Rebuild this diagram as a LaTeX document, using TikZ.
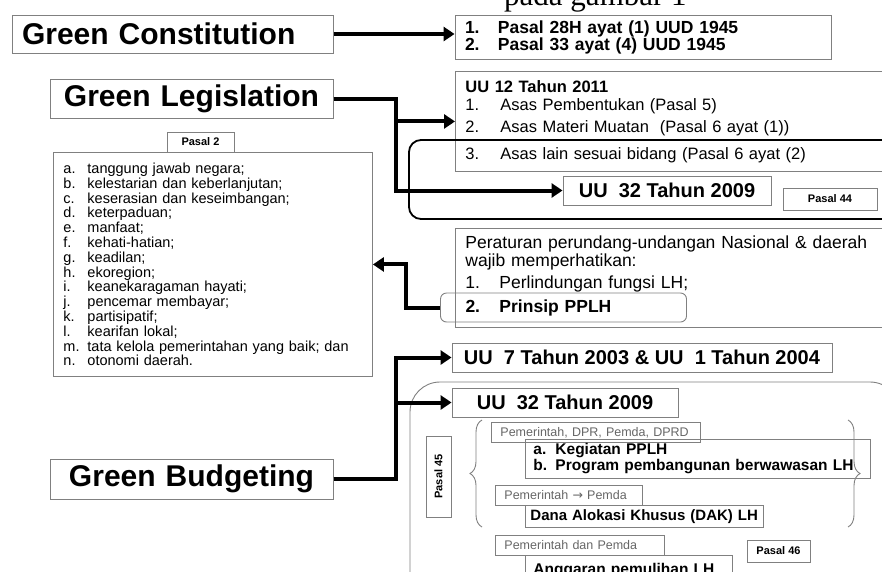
\documentclass[tikz,border=0pt]{standalone}
\usepackage{fontspec}
\setmainfont{Liberation Sans}
\newfontfamily\capfont{Liberation Serif}
\newfontfamily\symfont{DejaVu Sans}
\usetikzlibrary{arrows.meta,decorations.pathreplacing}

\begin{document}
\begin{tikzpicture}[x=1pt, y=-1pt,
    box/.style = {draw=gray, line width=0.9pt, inner sep=0pt, align=left},
    green/.style = {box, line width=1pt, font=\fontsize{30}{34}\selectfont\bfseries},
    tag/.style = {box, align=center, font=\fontsize{11}{12}\selectfont\bfseries},
    who/.style = {box, anchor=north west, minimum height=20pt, inner xsep=9pt, text=black!60, font=\fontsize{12.5}{14}\selectfont},
    lain/.style = {draw, line width=1.8pt, rounded corners=12pt},
    conn/.style = {line width=4pt, -{Triangle[length=11pt, width=14pt]}},
    brc/.style = {draw=gray, line width=0.9pt, decorate, decoration={brace, amplitude=12pt}}]
    \useasboundingbox (0,0) rectangle (882,571);

    \node[anchor=base west, inner sep=0pt, font=\capfont\fontsize{31}{31}\selectfont] (n_cap) at (504,5) {pada gambar 1};

    \node[green, minimum height=38pt, text width=301pt, inner xsep=10pt] (n_gc) at (172.5,34) {Green Constitution};
    \node[green, minimum height=39pt, text width=283pt, align=center] (n_gl) at (191.5,98.5) {Green Legislation};
    \node[green, minimum height=40pt, text width=283pt, align=center] (n_gb) at (191.5,479) {Green Budgeting};

    \node[box, minimum height=44pt, text width=356pt, inner xsep=10pt, font=\fontsize{17.5}{17}\selectfont\bfseries] (n_uud) at (643,37)
        {\makebox[33pt][l]{1.}Pasal 28H ayat (1) UUD 1945\\ \makebox[33pt][l]{2.}Pasal 33 ayat (4) UUD 1945};

    \node[box, anchor=north west, minimum height=100pt, text width=420pt, inner xsep=10pt, font=\fontsize{16.5}{18}\selectfont] (n_uu12) at (455,71)
        {\textbf{UU 12 Tahun 2011}\\
         \makebox[35pt][l]{1.}Asas Pembentukan (Pasal 5)\\[4pt]
         \makebox[35pt][l]{2.}Asas Materi Muatan\ \ (Pasal 6 ayat (1))\\[9pt]
         \makebox[35pt][l]{3.}Asas lain sesuai bidang (Pasal 6 ayat (2)};
    \node[lain, minimum width=486pt, minimum height=79pt] (n_lain) at (652,179.5) {};
    \node[box, minimum width=208pt, minimum height=29pt, font=\fontsize{20}{22}\selectfont\bfseries] (n_uu32a) at (667,190.5) {UU\ \ 32 Tahun 2009};
    \node[tag, minimum width=94pt, minimum height=22pt] (n_p44) at (830,199) {Pasal 44};

    \node[tag, minimum width=67pt, minimum height=20pt] (n_p2) at (200.5,142) {Pasal 2};
    \node[box, anchor=north west, minimum height=224pt, text width=299pt, inner xsep=10pt, font=\fontsize{14.5}{14.8}\selectfont] (n_list) at (53,152)
        {\makebox[24pt][l]{a.}tanggung jawab negara;\\
         \makebox[24pt][l]{b.}kelestarian dan keberlanjutan;\\
         \makebox[24pt][l]{c.}keserasian dan keseimbangan;\\
         \makebox[24pt][l]{d.}keterpaduan;\\
         \makebox[24pt][l]{e.}manfaat;\\
         \makebox[24pt][l]{f.}kehati-hatian;\\
         \makebox[24pt][l]{g.}keadilan;\\
         \makebox[24pt][l]{h.}ekoregion;\\
         \makebox[24pt][l]{i.}keanekaragaman hayati;\\
         \makebox[24pt][l]{j.}pencemar membayar;\\
         \makebox[24pt][l]{k.}partisipatif;\\
         \makebox[24pt][l]{l.}kearifan lokal;\\
         \makebox[24pt][l]{m.}tata kelola pemerintahan yang baik; dan\\
         \makebox[24pt][l]{n.}otonomi daerah.};

    \node[box, anchor=north west, minimum height=99pt, text width=420pt, inner xsep=10pt, font=\fontsize{17.5}{18}\selectfont] (n_per) at (455,228)
        {Peraturan perundang-undangan Nasional \& daerah\\
         wajib memperhatikan:\\[4pt]
         \makebox[34pt][l]{1.}Perlindungan fungsi LH;\\[9pt]
         \strut};
    \node[box, rounded corners=6pt, minimum height=29pt, text width=196pt, inner xsep=25pt, font=\fontsize{17.5}{18}\selectfont\bfseries] (n_pplh) at (563.5,307.5)
        {\makebox[34pt][l]{2.}Prinsip PPLH};

    \node[box, minimum width=380pt, minimum height=29pt, font=\fontsize{20}{22}\selectfont\bfseries] (n_uu7) at (642,357.5) {UU\ \ 7 Tahun 2003 \& UU\ \ 1 Tahun 2004};
    \node[draw=gray, line width=0.9pt, rounded corners=30pt, minimum width=490pt, minimum height=238pt] (n_ang) at (655,501) {};
    \node[box, minimum width=226pt, minimum height=29pt, font=\fontsize{20}{22}\selectfont\bfseries] (n_uu32b) at (565,402.5) {UU\ \ 32 Tahun 2009};
    \node[tag, rotate=90, minimum width=81pt, minimum height=25pt] (n_p45) at (438.5,476.5) {Pasal 45};

    \node[who, text width=191pt] (n_who1) at (491,422) {Pemerintah, DPR, Pemda, DPRD};
    \node[box, anchor=north west, minimum height=39pt, text width=329pt, inner xsep=8pt, font=\fontsize{15.5}{16}\selectfont\bfseries] (n_keg) at (525,439)
        {\makebox[22pt][l]{a.}Kegiatan PPLH\\ \makebox[22pt][l]{b.}Program pembangunan berwawasan LH};
    \node[who, text width=129pt] (n_who2) at (495,485) {Pemerintah {\symfont→} Pemda};
    \node[box, anchor=north west, minimum height=22pt, text width=228pt, inner xsep=5pt, font=\fontsize{15}{16}\selectfont\bfseries] (n_dak) at (525,505) {Dana Alokasi Khusus (DAK) LH};
    \node[who, text width=151pt] (n_who3) at (495,535) {Pemerintah dan Pemda};
    \node[box, anchor=north west, minimum height=30pt, text width=191pt, inner xsep=8pt, font=\fontsize{15.5}{16}\selectfont\bfseries] (n_agg) at (525,555) {Anggaran pemulihan LH};
    \node[tag, minimum width=63pt, minimum height=22pt] (n_p46) at (778.5,551) {Pasal 46};

    \draw[brc] (482,527) -- (482,420);
    \draw[brc] (848,420) -- (848,527);

    \draw[conn] (n_gc.east) -- (n_uud.west |- n_gc.east);
    \draw[conn] (n_gl.east) -- ++(62,0) |- (n_uu12.west);
    \draw[conn] (n_gl.east) -- ++(62,0) |- (n_uu32a.west);
    \draw[conn] (n_pplh.west) -- ++(-34,0) |- (n_list.east);
    \draw[conn] (n_gb.east) -- ++(62,0) |- (n_uu7.west);
    \draw[conn] (n_gb.east) -- ++(62,0) |- (n_uu32b.west);
\end{tikzpicture}
\end{document}
